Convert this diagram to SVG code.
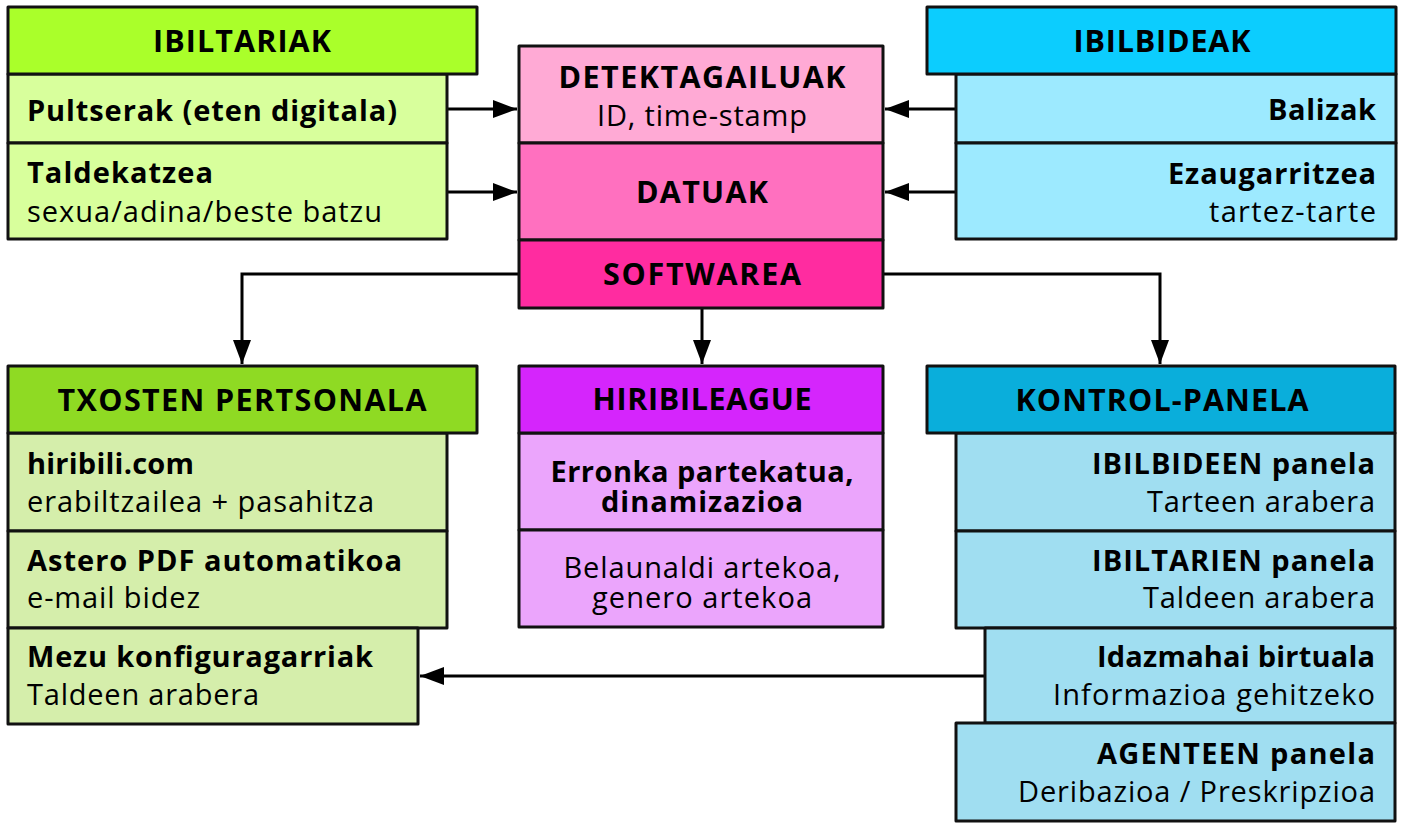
<svg xmlns="http://www.w3.org/2000/svg" width="1402" height="826" viewBox="0 0 1402 826">
<defs>
<marker id="arr" markerUnits="userSpaceOnUse" markerWidth="24" markerHeight="18" refX="24" refY="9" orient="auto">
<path d="M0,0 L24,9 L0,18 z" fill="#000"/>
</marker>
<style>
rect{stroke:#111;stroke-width:3;stroke-linejoin:round}
text{font-family:"Open Sans","Noto Sans","DejaVu Sans",sans-serif;font-size:29px;fill:#000}
.b{font-weight:bold}
.h{font-size:30.5px}
.c{text-anchor:middle}
.r{text-anchor:end}
.l{text-anchor:start}
.conn path{fill:none;stroke:#000;stroke-width:3}
</style>
</defs>
<rect x="0" y="0" width="1402" height="826" fill="#fff" style="stroke:none"/>

<g class="conn" id="connectors">
<path d="M447,109 H517" marker-end="url(#arr)"/>
<path d="M447,192 H517" marker-end="url(#arr)"/>
<path d="M956,109 H885" marker-end="url(#arr)"/>
<path d="M956,192 H885" marker-end="url(#arr)"/>
<path d="M519,274 H242 V364" marker-end="url(#arr)"/>
<path d="M702,308 V364" marker-end="url(#arr)"/>
<path d="M883,274 H1160 V364" marker-end="url(#arr)"/>
<path d="M985,676 H420" marker-end="url(#arr)"/>
</g>

<g id="ibiltariak">
<rect x="8" y="74" width="439" height="69" fill="#d8ff9c"/>
<rect x="8" y="143" width="439" height="96" fill="#d8ff9c"/>
<rect x="8" y="7" width="469" height="67" fill="#aaff2a"/>
<text class="b c h" x="242" y="52" textLength="178" lengthAdjust="spacing">IBILTARIAK</text>
<text class="b l" x="27" y="121" textLength="370" lengthAdjust="spacing">Pultserak (eten digitala)</text>
<text class="b l" x="27" y="183" textLength="186" lengthAdjust="spacing">Taldekatzea</text>
<text class="l" x="27" y="222" textLength="355" lengthAdjust="spacing">sexua/adina/beste batzu</text>
</g>

<g id="detektagailuak">
<rect x="519" y="46" width="364" height="97" fill="#ffaad5"/>
<text class="b c h" x="702" y="88" textLength="287" lengthAdjust="spacing">DETEKTAGAILUAK</text>
<text class="c" x="702" y="126" textLength="210" lengthAdjust="spacing">ID, time-stamp</text>
</g>
<g id="datuak">
<rect x="519" y="143" width="364" height="97" fill="#ff70bf"/>
<text class="b c h" x="702" y="203" textLength="132" lengthAdjust="spacing">DATUAK</text>
</g>
<g id="softwarea">
<rect x="519" y="240" width="364" height="68" fill="#ff2ca0"/>
<text class="b c h" x="702" y="285" textLength="198" lengthAdjust="spacing">SOFTWAREA</text>
</g>

<g id="ibilbideak">
<rect x="956" y="74" width="440" height="69" fill="#9deaff"/>
<rect x="956" y="143" width="440" height="96" fill="#9deaff"/>
<rect x="927" y="7" width="469" height="67" fill="#0ccdfe"/>
<text class="b c h" x="1162" y="52" textLength="177" lengthAdjust="spacing">IBILBIDEAK</text>
<text class="b r" x="1376" y="120" textLength="108" lengthAdjust="spacing">Balizak</text>
<text class="b r" x="1376" y="184" textLength="208" lengthAdjust="spacing">Ezaugarritzea</text>
<text class="r" x="1376" y="222" textLength="167" lengthAdjust="spacing">tartez-tarte</text>
</g>

<g id="txosten">
<rect x="8" y="433" width="439" height="98" fill="#d5eeab"/>
<rect x="8" y="531" width="439" height="97" fill="#d5eeab"/>
<rect x="8" y="628" width="410" height="96" fill="#d5eeab"/>
<rect x="8" y="366" width="469" height="67" fill="#8fda23"/>
<text class="b c h" x="242" y="411" textLength="369" lengthAdjust="spacing">TXOSTEN PERTSONALA</text>
<text class="b l" x="27" y="474" textLength="167" lengthAdjust="spacing">hiribili.com</text>
<text class="l" x="27" y="512" textLength="347" lengthAdjust="spacing">erabiltzailea + pasahitza</text>
<text class="b l" x="27" y="571" textLength="375" lengthAdjust="spacing">Astero PDF automatikoa</text>
<text class="l" x="27" y="608" textLength="173" lengthAdjust="spacing">e-mail bidez</text>
<text class="b l" x="27" y="667" textLength="346" lengthAdjust="spacing">Mezu konfiguragarriak</text>
<text class="l" x="27" y="705" textLength="232" lengthAdjust="spacing">Taldeen arabera</text>
</g>

<g id="hiribileague">
<rect x="519" y="433" width="364" height="97" fill="#eba5fc"/>
<rect x="519" y="530" width="364" height="97" fill="#eba5fc"/>
<rect x="519" y="366" width="364" height="67" fill="#d525fc"/>
<text class="b c h" x="702" y="410" textLength="219" lengthAdjust="spacing">HIRIBILEAGUE</text>
<text class="b c" x="702" y="482" textLength="303" lengthAdjust="spacing">Erronka partekatua,</text>
<text class="b c" x="702" y="512" textLength="202" lengthAdjust="spacing">dinamizazioa</text>
<text class="c" x="702" y="578" textLength="277" lengthAdjust="spacing">Belaunaldi artekoa,</text>
<text class="c" x="702" y="608" textLength="220" lengthAdjust="spacing">genero artekoa</text>
</g>

<g id="kontrol">
<rect x="956" y="433" width="439" height="98" fill="#a0def1"/>
<rect x="956" y="531" width="439" height="97" fill="#a0def1"/>
<rect x="985" y="628" width="410" height="95" fill="#a0def1"/>
<rect x="956" y="723" width="439" height="98" fill="#a0def1"/>
<rect x="927" y="366" width="468" height="67" fill="#0aaedb"/>
<text class="b c h" x="1162" y="411" textLength="293" lengthAdjust="spacing">KONTROL-PANELA</text>
<text class="b r" x="1375" y="474" textLength="283" lengthAdjust="spacing">IBILBIDEEN panela</text>
<text class="r" x="1375" y="512" textLength="228" lengthAdjust="spacing">Tarteen arabera</text>
<text class="b r" x="1375" y="571" textLength="283" lengthAdjust="spacing">IBILTARIEN panela</text>
<text class="r" x="1375" y="608" textLength="232" lengthAdjust="spacing">Taldeen arabera</text>
<text class="b r" x="1375" y="667" textLength="278" lengthAdjust="spacing">Idazmahai birtuala</text>
<text class="r" x="1375" y="705" textLength="322" lengthAdjust="spacing">Informazioa gehitzeko</text>
<text class="b r" x="1375" y="764" textLength="278" lengthAdjust="spacing">AGENTEEN panela</text>
<text class="r" x="1375" y="802" textLength="357" lengthAdjust="spacing">Deribazioa / Preskripzioa</text>
</g>
</svg>
